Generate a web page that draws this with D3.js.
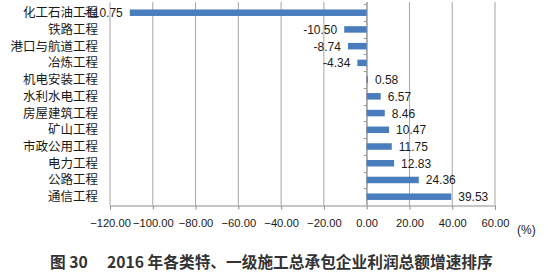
<!DOCTYPE html>
<html>
<head>
<meta charset="utf-8">
<script src="https://cdn.jsdelivr.net/npm/d3@7"></script>
<style>
  body { margin: 0; background: #fff; }
  svg { display: block; }
</style>
</head>
<body>
<script>
// ---------------------- data ----------------------
var categories = ["化工石油工程", "铁路工程", "港口与航道工程", "冶炼工程", "机电安装工程",
                  "水利水电工程", "房屋建筑工程", "矿山工程", "市政公用工程", "电力工程",
                  "公路工程", "通信工程"];
var growth = [-110.75, -10.50, -8.74, -4.34, 0.58, 6.57, 8.46, 10.47, 11.75, 12.83, 24.36, 39.53];
var xTicks = [-120, -100, -80, -60, -40, -20, 0, 20, 40, 60];
var titleText = "图 30\u2003 2016 年各类特、一级施工总承包企业利润总额增速排序";

// ---------------------- chart ----------------------
var svg = d3.select("body")
     .append("svg")
     .attr("width", 548)
     .attr("height", 274);

var x = d3.scaleLinear().domain([-120, 60]).range([110, 495]);
var yStep = d3.scaleBand().domain(categories).range([4.3, 205]);

// vertical grid lines
svg.append("g")
     .selectAll("line")
     .data(xTicks)
     .enter()
     .append("line")
     .attr("x1", d => x(d))
     .attr("x2", d => x(d))
     .attr("y1", 2)
     .attr("y2", 205)
     .attr("stroke", "#a6a6a6")
     .attr("stroke-width", 1);

// bottom axis
var xAxis = d3.axisBottom(x)
     .tickValues(xTicks)
     .tickFormat(d3.format(".2f"))
     .tickSize(4)
     .tickPadding(10);

var gx = svg.append("g")
     .attr("transform", "translate(0,205.5)")
     .call(xAxis);
gx.select(".domain").attr("stroke", "#8c8c8c");
gx.selectAll(".tick line").attr("stroke", "#8c8c8c");
gx.selectAll("text")
     .style("font-family", "'Liberation Sans', Arial, sans-serif")
     .style("font-size", "11.2px")
     .attr("fill", "#1a1a1a");

// y axis line at zero with small ticks at band edges
svg.append("line")
     .attr("x1", x(0) + 0.5)
     .attr("x2", x(0) + 0.5)
     .attr("y1", 2)
     .attr("y2", 205)
     .attr("stroke", "#9a9a9a");
svg.append("g")
     .selectAll("line")
     .data(categories)
     .enter()
     .append("line")
     .attr("x1", x(0) - 3)
     .attr("x2", x(0))
     .attr("y1", d => Math.round(yStep(d)) + 0.5)
     .attr("y2", d => Math.round(yStep(d)) + 0.5)
     .attr("stroke", "#9a9a9a");

// bars
svg.append("g")
     .selectAll("rect")
     .data(growth)
     .enter()
     .append("rect")
     .attr("x", d => x(Math.min(0, d)))
     .attr("y", (d, i) => yStep(categories[i]) + yStep.bandwidth() / 2 - 3.2)
     .attr("width", d => Math.abs(x(d) - x(0)))
     .attr("height", 6.5)
     .attr("fill", "#4a7dbd");

// value labels
svg.append("g")
     .selectAll("text")
     .data(growth)
     .enter()
     .append("text")
     .text(d => d.toFixed(2))
     .attr("x", d => d < 0 ? x(d) - 7 : x(d) + 7)
     .attr("y", (d, i) => yStep(categories[i]) + yStep.bandwidth() / 2 + 4.5)
     .attr("text-anchor", d => d < 0 ? "end" : "start")
     .style("font-family", "'Liberation Sans', Arial, sans-serif")
     .style("font-size", "12px")
     .attr("fill", "#1a1a1a");

// category labels
svg.append("g")
     .selectAll("text")
     .data(categories)
     .enter()
     .append("text")
     .text(d => d)
     .attr("x", 98)
     .attr("y", d => yStep(d) + yStep.bandwidth() / 2 + 4.5)
     .attr("text-anchor", "end")
     .style("font-family", "'Noto Sans CJK SC', sans-serif")
     .style("font-size", "12.5px")
     .attr("fill", "#1a1a1a");

// unit
svg.append("text")
     .text("(%)")
     .attr("x", 517)
     .attr("y", 234)
     .style("font-family", "'Liberation Sans', Arial, sans-serif")
     .style("font-size", "12px")
     .attr("fill", "#1a1a1a");

// caption
svg.append("text")
     .text(titleText)
     .attr("x", 50)
     .attr("y", 268)
     .style("font-family", "'Noto Sans CJK SC', sans-serif")
     .style("font-size", "15.7px")
     .style("font-weight", "bold")
     .style("white-space", "pre")
     .attr("fill", "#333");
</script>
</body>
</html>
